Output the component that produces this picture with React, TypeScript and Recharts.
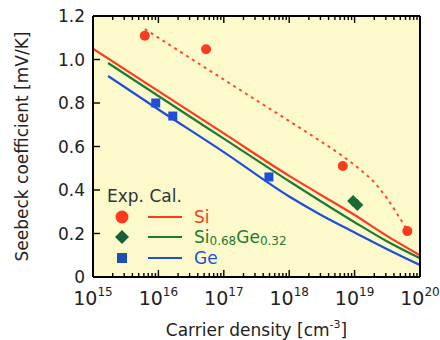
import React from 'react';
import { ComposedChart, Line, Scatter, XAxis, YAxis, Legend, ReferenceLine } from 'recharts';

// ---- data ----
const siCalcN = [1e15, 1e16, 1e17, 1e18, 3.16e18, 1e19, 3.16e19, 1e20];
const siCalcS = [1.05, 0.855, 0.66, 0.465, 0.375, 0.285, 0.188, 0.1];
const sigeCalcN = [1.7e15, 1e16, 1e17, 1e18, 3.16e18, 1e19, 3.16e19, 1e20];
const sigeCalcS = [0.984, 0.832, 0.636, 0.44, 0.345, 0.252, 0.163, 0.086];
const geCalcN = [1.7e15, 1e16, 1e17, 1e18, 3.16e18, 1e19, 3.16e19, 1e20];
const geCalcS = [0.924, 0.77, 0.574, 0.37, 0.283, 0.205, 0.128, 0.055];
const siGuideN = [6.2e15, 1.95e17, 2.75e18, 6.3e18, 1.26e19, 2e19, 3.16e19, 4.47e19, 6.6e19];
const siGuideS = [1.14, 0.852, 0.632, 0.56, 0.49, 0.435, 0.36, 0.29, 0.21];
const siExpN = [6.2e15, 5.35e16, 6.6e18, 6.4e19];
const siExpS = [1.109, 1.047, 0.51, 0.211];
const sigeExpN = [9.5e18, 1.1e19];
const sigeExpS = [0.349, 0.331];
const geExpN = [9.1e15, 1.66e16, 4.9e17];
const geExpS = [0.8, 0.74, 0.46];

const majorTicks = [1e15, 1e16, 1e17, 1e18, 1e19, 1e20];
const yTicks = [0, 0.2, 0.4, 0.6, 0.8, 1.0, 1.2];
const yTickLabels = ['0', '0.2', '0.4', '0.6', '0.8', '1.0', '1.2'];

const xTicks: number[] = [];
for (let i = 0; i < majorTicks.length - 1; i++) {
  for (let m = 1; m <= 9; m++) xTicks.push(m * majorTicks[i]);
}
xTicks.push(majorTicks[majorTicks.length - 1]);

const zip = (n: number[], s: number[]) => n.map((v, i) => ({ n: v, s: s[i] }));

const RED = '#ff3b1f';
const GREEN = '#1e7a32';
const BLUE = '#1f4fd8';
const FONT = 'DejaVu Sans, sans-serif';
const W = 440;
const H = 340;
const M = { top: 15, right: 19, left: 0, bottom: 0 };
const Y_W = 93;
const X_H = 63;
const X_DOMAIN: [number, number] = [1e15, 1e20];
const Y_DOMAIN: [number, number] = [0, 1.2];

const isMajor = (v: number) => {
  const e = Math.round(Math.log10(v));
  return Math.abs(v - Math.pow(10, e)) < v * 1e-6;
};

const BottomTick = (props: any) => {
  const { x, y, payload } = props;
  const v = payload.value;
  const major = isMajor(v);
  const e = Math.round(Math.log10(v));
  return (
    <g>
      <line x1={x} x2={x} y1={y} y2={y - (major ? 7 : 4)} stroke="#000" strokeWidth={1.4} />
      {major && (
        <text x={x} y={y + 28} textAnchor="middle" fontSize={19} fontFamily={FONT} fill="#222">
          10<tspan dy={-9} fontSize={12}>{e}</tspan>
        </text>
      )}
    </g>
  );
};

const TopTick = (props: any) => {
  const { x, y, payload } = props;
  const major = isMajor(payload.value);
  return <line x1={x} x2={x} y1={y} y2={y + (major ? 7 : 4)} stroke="#000" strokeWidth={1.4} />;
};

const LeftTick = (props: any) => {
  const { x, y, payload } = props;
  const idx = yTicks.findIndex((t) => Math.abs(t - payload.value) < 1e-9);
  return (
    <g>
      <line x1={x} x2={x + 7} y1={y} y2={y} stroke="#000" strokeWidth={1.4} />
      <text x={x - 8} y={y} dy="0.36em" textAnchor="end" fontSize={17} fontFamily={FONT} fill="#222">
        {idx >= 0 ? yTickLabels[idx] : ''}
      </text>
    </g>
  );
};

const RightTick = (props: any) => {
  const { x, y } = props;
  return <line x1={x} x2={x - 7} y1={y} y2={y} stroke="#000" strokeWidth={1.4} />;
};

const circleShape = (p: any) => <circle cx={p.cx} cy={p.cy} r={5} fill={RED} />;
const diamondShape = (p: any) => (
  <path d={`M${p.cx},${p.cy - 6} L${p.cx + 6},${p.cy} L${p.cx},${p.cy + 6} L${p.cx - 6},${p.cy} Z`} fill="#1a6a34" />
);
const squareShape = (p: any) => <rect x={p.cx - 4.5} y={p.cy - 4.5} width={9} height={9} fill={BLUE} />;

const LegendBox = () => (
  <svg width={200} height={90} style={{ overflow: 'visible' }}>
    <g fontFamily={FONT} fontSize={17}>
      <text x={7} y={22} fill="#333">Exp. Cal.</text>
      <circle cx={22} cy={37} r={6.5} fill={RED} />
      <line x1={48} x2={82} y1={37} y2={37} stroke={RED} strokeWidth={2} />
      <text x={94} y={43} fill={RED}>Si</text>
      <path d="M22,50 L29,57 L22,64 L15,57 Z" fill="#17603a" />
      <line x1={48} x2={82} y1={57} y2={57} stroke={GREEN} strokeWidth={2} />
      <text x={94} y={63} fill={GREEN}>
        Si<tspan fontSize={12} dy={2}>0.68</tspan><tspan dy={-2}>Ge</tspan><tspan fontSize={12} dy={2}>0.32</tspan>
      </text>
      <rect x={17} y={73} width={10} height={10} fill="#1c4fb8" />
      <line x1={48} x2={82} y1={78} y2={78} stroke={BLUE} strokeWidth={2} />
      <text x={94} y={84} fill={BLUE}>Ge</text>
    </g>
  </svg>
);

export default function App() {
  return (
    <div style={{ position: 'absolute', left: 0, top: 0, width: W, height: H, background: '#fff' }}>
      <div
        style={{
          position: 'absolute',
          left: M.left + Y_W,
          top: M.top + 1,
          width: W - M.left - M.right - 1 - Y_W,
          height: H - M.top - 1 - M.bottom - X_H,
          background: '#fcf9cb',
        }}
      />
      <div style={{ position: 'absolute', left: 0, top: 0 }}>
        <ComposedChart width={W} height={H} margin={M}>
          <Line xAxisId="b" yAxisId="l" data={zip(siGuideN, siGuideS)} dataKey="s" type="monotone" stroke="#ff4a33" strokeWidth={2} strokeDasharray="3 4" dot={false} isAnimationActive={false} />
          <Line xAxisId="b" yAxisId="l" data={zip(siCalcN, siCalcS)} dataKey="s" type="monotone" stroke={RED} strokeWidth={2.2} dot={false} isAnimationActive={false} />
          <Line xAxisId="b" yAxisId="l" data={zip(sigeCalcN, sigeCalcS)} dataKey="s" type="monotone" stroke={GREEN} strokeWidth={2.2} dot={false} isAnimationActive={false} />
          <Line xAxisId="b" yAxisId="l" data={zip(geCalcN, geCalcS)} dataKey="s" type="monotone" stroke={BLUE} strokeWidth={2.2} dot={false} isAnimationActive={false} />
          <Scatter xAxisId="b" yAxisId="l" data={zip(siExpN, siExpS)} dataKey="s" shape={circleShape} isAnimationActive={false} />
          <Scatter xAxisId="b" yAxisId="l" data={zip(sigeExpN, sigeExpS)} dataKey="s" shape={diamondShape} isAnimationActive={false} />
          <Scatter xAxisId="b" yAxisId="l" data={zip(geExpN, geExpS)} dataKey="s" shape={squareShape} isAnimationActive={false} />
          <ReferenceLine xAxisId="b" yAxisId="l" x={X_DOMAIN[0]} stroke="#000" strokeWidth={2} />
          <ReferenceLine xAxisId="b" yAxisId="l" x={X_DOMAIN[1]} stroke="#000" strokeWidth={2} />
          <ReferenceLine xAxisId="b" yAxisId="l" y={Y_DOMAIN[0]} stroke="#000" strokeWidth={2} />
          <ReferenceLine xAxisId="b" yAxisId="l" y={Y_DOMAIN[1]} stroke="#000" strokeWidth={2} />
          <XAxis
            xAxisId="b"
            dataKey="n"
            type="number"
            scale="log"
            domain={X_DOMAIN}
            allowDataOverflow
            ticks={xTicks}
            interval={0}
            height={X_H}
            tickSize={0}
            tickMargin={0}
            tick={<BottomTick />}
            axisLine={{ stroke: '#000', strokeWidth: 2 }}
            label={{
              value: 'Carrier density [cm-3]',
              content: (p: any) => {
                const vb = p.viewBox;
                return (
                  <text x={vb.x + vb.width / 2} y={336} textAnchor="middle" fontSize={17} fontFamily={FONT} fill="#222">
                    Carrier density [cm<tspan dy={-8} fontSize={11}>-3</tspan><tspan dy={8}>]</tspan>
                  </text>
                );
              },
            }}
          />
          <XAxis
            xAxisId="t"
            orientation="top"
            dataKey="n"
            type="number"
            scale="log"
            domain={X_DOMAIN}
            allowDataOverflow
            ticks={xTicks}
            interval={0}
            height={1}
            tickSize={0}
            tickMargin={0}
            tick={<TopTick />}
            axisLine={false}
          />
          <YAxis
            yAxisId="l"
            dataKey="s"
            type="number"
            domain={Y_DOMAIN}
            ticks={yTicks}
            interval={0}
            width={Y_W}
            tickSize={0}
            tickMargin={0}
            tick={<LeftTick />}
            axisLine={{ stroke: '#000', strokeWidth: 2 }}
            label={{
              value: 'Seebeck coefficient [mV/K]',
              content: (p: any) => {
                const vb = p.viewBox;
                const cy = vb.y + vb.height / 2;
                return (
                  <text x={22} y={cy} transform={`rotate(-90, 22, ${cy})`} textAnchor="middle" dy="0.36em" fontSize={17} fontFamily={FONT} fill="#222">
                    Seebeck coefficient [mV/K]
                  </text>
                );
              },
            }}
          />
          <YAxis
            yAxisId="r"
            orientation="right"
            dataKey="s"
            type="number"
            domain={Y_DOMAIN}
            ticks={yTicks}
            interval={0}
            width={1}
            tickSize={0}
            tickMargin={0}
            tick={<RightTick />}
            axisLine={false}
          />
          <Legend
            layout="horizontal"
            verticalAlign="middle"
            align="center"
            content={() => <LegendBox />}
            wrapperStyle={{ left: 100, top: 180, width: 200, height: 90 }}
          />
        </ComposedChart>
      </div>
    </div>
  );
}
